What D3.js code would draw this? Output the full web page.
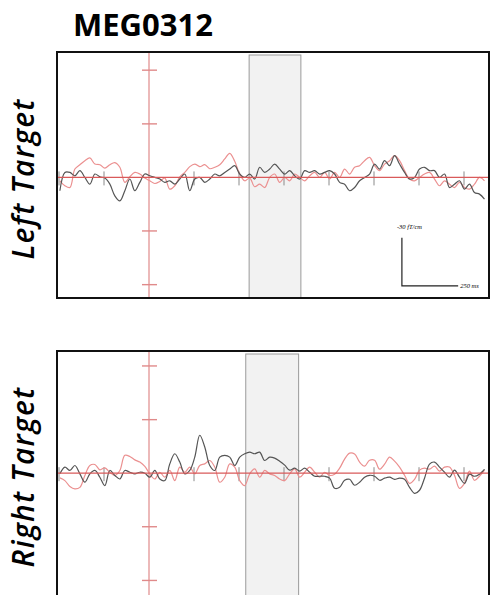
<!DOCTYPE html>
<html lang="en">
<head>
<meta charset="UTF-8">
<title>MEG0312</title>
<script src="https://d3js.org/d3.v7.min.js"></script>
<style>
  body { margin: 0; background: #fff; }
  svg { display: block; }
</style>
</head>
<body>
<svg width="491" height="595"></svg>
<script>
// sampling of the traces (ms)
const t0 = -396, dt = 22.2;

// Left Target, fT/cm (negative up)
const leftBlack = [8.3,-3.1,-3.1,-1.0,-4.2,0,4.2,-2.1,-0.4,0.4,4.2,11.5,14.6,8.3,1.0,8.3,3.1,-2.1,-1.0,0,
  1.0,3.1,2.1,4.2,1.0,-2.1,8.3,1.0,0,3.1,1.0,-2.1,-1.0,-3.1,-5.2,-7.3,-2.1,0,-2.1,1.0,
  -6.3,-3.1,-5.2,-8.3,-5.2,-2.1,-4.2,-1.0,1.0,-4.2,-3.1,-4.2,-2.1,-3.1,-4.2,-2.1,3.1,4.2,8.3,6.3,
  2.1,0,-2.1,-8.3,-5.2,-10.4,-7.3,-13.5,-8.3,-3.1,1.0,0,-5.2,-6.3,-4.2,-4.2,0,-2.1,6.3,4.2,
  2.1,7.3,4.2,9.4,10.4,13.5];
const leftRed = [2.1,5.2,6.3,-5.2,-7.9,-10.4,-12.1,-8.3,-7.9,-5.8,-7.9,-9.2,-6.3,3.1,-0.4,-3.1,-2.1,0.4,2.1,3.8,
  2.5,0.4,7.3,5.2,-0.4,-3.1,-6.7,-8.3,-6.7,-7.9,-5.4,-6.3,-7.9,-11.5,-15.0,-10.0,-2.1,2.1,0.4,5.8,
  4.2,6.3,0,-2.1,3.1,0,2.1,-2.1,0,2.1,-1.0,-3.1,0,-3.1,1.0,-3.1,0,-5.2,-2.1,-6.3,
  -7.3,-10.4,-12.5,-7.3,-4.2,-8.3,-10.4,-13.5,-10.4,-4.2,1.0,2.1,0,-2.1,-3.1,1.0,5.2,2.1,4.2,6.3,
  3.1,6.3,7.3,4.2,0,2.1];

// Right Target, fT/cm (negative up)
const rightBlack = [0.4,-3.8,-1.7,-4.8,0.4,5.6,0.4,-1.7,2.5,7.7,-1.7,1.4,3.6,-1.7,-0.6,0.4,-0.6,0,2.5,-1.7,
  3.6,4.6,-5.8,-12.1,-6.9,0.4,-1.7,-10.0,-23.6,-16.3,-4.8,-1.7,-10.0,-11.1,-10.0,-4.8,-10.0,-12.1,-13.1,-12.1,
  -13.1,-7.9,-10.0,-9.4,-7.5,-5.0,-1.9,-3.1,-1.3,-3.1,-0.6,1.9,1.9,1.9,3.1,9.4,8.8,4.4,3.8,7.5,
  5.6,2.5,1.3,1.9,4.4,3.1,2.5,3.8,3.1,3.8,8.8,12.5,10.6,3.1,-5.6,-6.9,-3.8,-0.6,2.5,-1.9,
  2.5,6.3,0.6,1.9,0.6,-2.5];
const rightRed = [2.9,4.6,8.3,9.8,8.8,1.4,-4.8,-5.4,-2.1,-3.3,-0.6,1.4,-1.7,-11.1,-10.4,-8.3,-6.9,-4.2,0.4,3.6,
  -0.6,2.5,-1.7,4.6,-3.8,-0.6,-3.8,0.4,-4.8,-5.8,-7.9,-3.8,5.6,2.5,-5.8,-3.8,4.6,7.7,0.4,-2.7,
  2.5,-1.7,0.4,1.4,3.6,4.6,0.4,-2.7,2.5,-0.6,-3.8,-0.6,2.5,-0.6,1.4,0.6,-3.1,-8.8,-12.5,-11.9,
  -6.9,-4.4,-8.1,-8.1,-2.5,-5.6,-10.0,-7.5,-3.8,1.3,6.3,3.8,-1.9,-3.1,-2.5,-4.4,-1.3,-3.8,-3.8,1.3,
  9.4,6.3,-1.3,4.4,1.9,-1.9];

const panelNames = ["Left Target", "Right Target"];
const bands = [[445, 675], [430, 665]];          // shaded window (ms)
const yDomains = [[-78, 75], [-76, 77]];         // fT/cm, negative up
const timeTicks = [-400, -200, 200, 400, 600, 800, 1000, 1200, 1400];
const yTicks = [-66.7, -33.3, 33.3, 66.7];
const scaleBar = { t: 1124, v: 67.5, dt: 250, dv: -30 };   // corner at (t, v)

const svg = d3.select("svg");
const left = 57, right = 489, ph = 246;
const panelTops = [52, 351];
const labelCenters = [179, 477];

const x = d3.scaleLinear().domain([-400, 1500]).range([59, 486.5]);

svg.append("text")
  .attr("x", 73).attr("y", 36)
  .attr("font-family", "Open Sans").attr("font-weight", 700).attr("font-size", 31)
  .text("MEG0312");

panelNames.forEach((name, i) => {
  const top = panelTops[i];
  const y = d3.scaleLinear().domain(yDomains[i]).range([top, top + ph]);
  const g = svg.append("g");
  const clipId = "clip" + i;

  g.append("clipPath").attr("id", clipId)
    .append("rect").attr("x", left).attr("y", top).attr("width", right - left).attr("height", ph);

  const inner = g.append("g").attr("clip-path", `url(#${clipId})`);

  // shaded window
  inner.append("rect")
    .attr("x", x(bands[i][0])).attr("y", top + 3)
    .attr("width", x(bands[i][1]) - x(bands[i][0])).attr("height", ph)
    .attr("fill", "#f2f2f2").attr("stroke", "#9a9a9a").attr("stroke-width", 1);

  // vertical axis at t = 0
  inner.append("line")
    .attr("x1", x(0)).attr("x2", x(0)).attr("y1", top).attr("y2", top + ph)
    .attr("stroke", "#e08a8a").attr("stroke-width", 1.2);
  inner.selectAll(".ytick").data(yTicks).join("line")
    .attr("x1", x(0) - 7).attr("x2", x(0) + 8)
    .attr("y1", d => y(d)).attr("y2", d => y(d))
    .attr("stroke", "#e08a8a").attr("stroke-width", 1.4);

  // time ticks on zero line
  inner.selectAll(".xtick").data(timeTicks).join("line")
    .attr("x1", d => x(d)).attr("x2", d => x(d))
    .attr("y1", y(0) - 6).attr("y2", y(0) + 8)
    .attr("stroke", "#8a8a8a").attr("stroke-width", 1);

  const times = (vals) => vals.map((v, k) => [t0 + k * dt, v]);
  const line = d3.line().x(d => x(d[0])).y(d => y(d[1])).curve(d3.curveCatmullRom);

  const red = i === 0 ? leftRed : rightRed;
  const black = i === 0 ? leftBlack : rightBlack;

  inner.append("path").datum(times(red)).attr("d", line)
    .attr("fill", "none").attr("stroke", "#eb9090").attr("stroke-width", 1.2);
  inner.append("path").datum(times(black)).attr("d", line)
    .attr("fill", "none").attr("stroke", "#555").attr("stroke-width", 1.2);

  // zero line
  inner.append("line")
    .attr("x1", left).attr("x2", right).attr("y1", y(0)).attr("y2", y(0))
    .attr("stroke", "#d95a5a").attr("stroke-width", 1.3);

  // frame
  g.append("rect")
    .attr("x", left).attr("y", top).attr("width", right - left).attr("height", ph)
    .attr("fill", "none").attr("stroke", "#111").attr("stroke-width", 2);

  // side label
  svg.append("text")
    .attr("transform", `translate(34,${labelCenters[i]}) rotate(-90)`)
    .attr("text-anchor", "middle")
    .attr("font-family", "Open Sans").attr("font-style", "italic")
    .attr("font-weight", 600).attr("font-size", 30).attr("letter-spacing", 1.2)
    .text(name);

  // scale bar in the first panel
  if (i === 0) {
    const sb = g.append("g");
    sb.append("path")
      .attr("d", `M${x(scaleBar.t)},${y(scaleBar.v + scaleBar.dv)}V${y(scaleBar.v)}H${x(scaleBar.t + scaleBar.dt)}`)
      .attr("fill", "none").attr("stroke", "#222").attr("stroke-width", 1.2);
    sb.append("text")
      .attr("x", x(scaleBar.t) - 5).attr("y", y(scaleBar.v + scaleBar.dv) - 9)
      .attr("font-family", "Liberation Serif").attr("font-style", "italic").attr("font-size", 6.5)
      .text("-30 fT/cm");
    sb.append("text")
      .attr("x", x(scaleBar.t + scaleBar.dt) + 2).attr("y", y(scaleBar.v) + 2)
      .attr("font-family", "Liberation Serif").attr("font-style", "italic").attr("font-size", 6.5)
      .text("250 ms");
  }
});
</script>
</body>
</html>
